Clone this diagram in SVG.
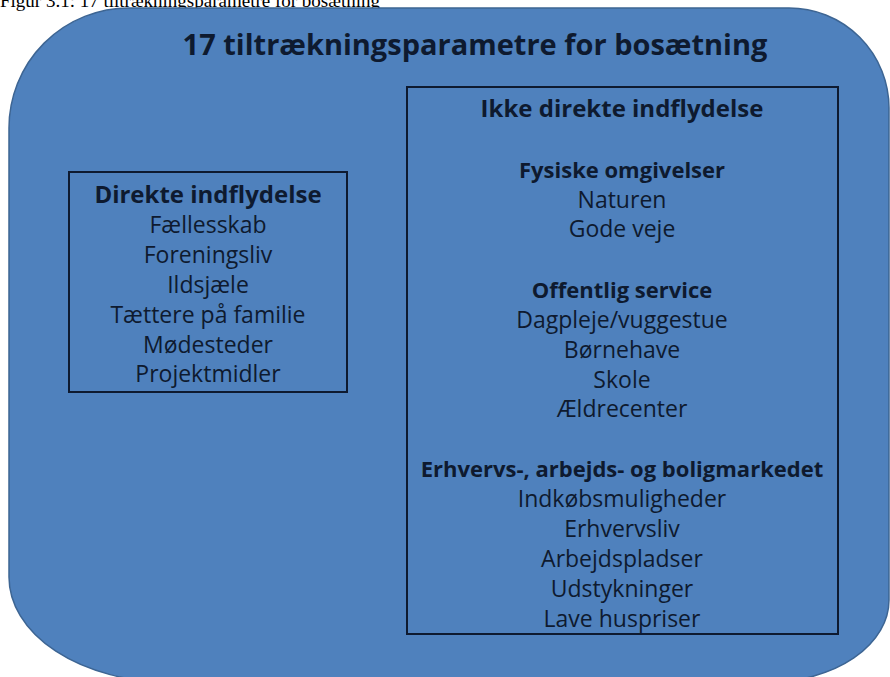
<svg xmlns="http://www.w3.org/2000/svg" width="890" height="677" viewBox="0 0 890 677">
<style>
  .caption { font-family: "Liberation Serif", "Times New Roman", serif; font-size: 19px; fill: #000; }
  .t { font-family: "Open Sans", "Noto Sans", sans-serif; fill: #0e1a2f; text-anchor: middle; }
  .title { font-size: 29px; font-weight: bold; }
  .head { font-size: 24px; font-weight: bold; }
  .sub { font-size: 22px; font-weight: bold; }
  .item { font-size: 23px; }
  .box { fill: none; stroke: #0e1a30; stroke-width: 2; }
</style>
<rect x="0" y="0" width="890" height="677" fill="#ffffff"/>
<text class="caption" x="0" y="7">Figur 3.1: 17 tiltrækningsparametre for bosætning</text>
<g id="frame">
  <path d="M 129,8 H 789 A 100 100 0 0 1 889,108 V 600 A 120 82 0 0 1 769,682 H 169 A 160 105 0 0 1 9,577 V 128 A 120 120 0 0 1 129,8 Z" fill="#4f81bd" stroke="#3d6593" stroke-width="1.5"/>
  <text class="t title" x="475" y="55">17 tiltrækningsparametre for bosætning</text>
</g>
<g id="direkte">
  <rect class="box" x="69" y="172" width="278" height="220"/>
  <text class="t head" x="208" y="203">Direkte indflydelse</text>
  <text class="t item" x="208" y="233">Fællesskab</text>
  <text class="t item" x="208" y="263">Foreningsliv</text>
  <text class="t item" x="208" y="293">Ildsjæle</text>
  <text class="t item" x="208" y="323">Tættere på familie</text>
  <text class="t item" x="208" y="353">Mødesteder</text>
  <text class="t item" x="208" y="382">Projektmidler</text>
</g>
<g id="ikke-direkte">
  <rect class="box" x="407" y="87" width="431" height="547"/>
  <text class="t head" x="622" y="117">Ikke direkte indflydelse</text>
  <text class="t sub" x="622" y="178">Fysiske omgivelser</text>
  <text class="t item" x="622" y="208">Naturen</text>
  <text class="t item" x="622" y="237">Gode veje</text>
  <text class="t sub" x="622" y="298">Offentlig service</text>
  <text class="t item" x="622" y="328">Dagpleje/vuggestue</text>
  <text class="t item" x="622" y="358">Børnehave</text>
  <text class="t item" x="622" y="388">Skole</text>
  <text class="t item" x="622" y="417">Ældrecenter</text>
  <text class="t sub" x="622" y="477">Erhvervs-, arbejds- og boligmarkedet</text>
  <text class="t item" x="622" y="507">Indkøbsmuligheder</text>
  <text class="t item" x="622" y="537">Erhvervsliv</text>
  <text class="t item" x="622" y="567">Arbejdspladser</text>
  <text class="t item" x="622" y="597">Udstykninger</text>
  <text class="t item" x="622" y="627">Lave huspriser</text>
</g>
</svg>
